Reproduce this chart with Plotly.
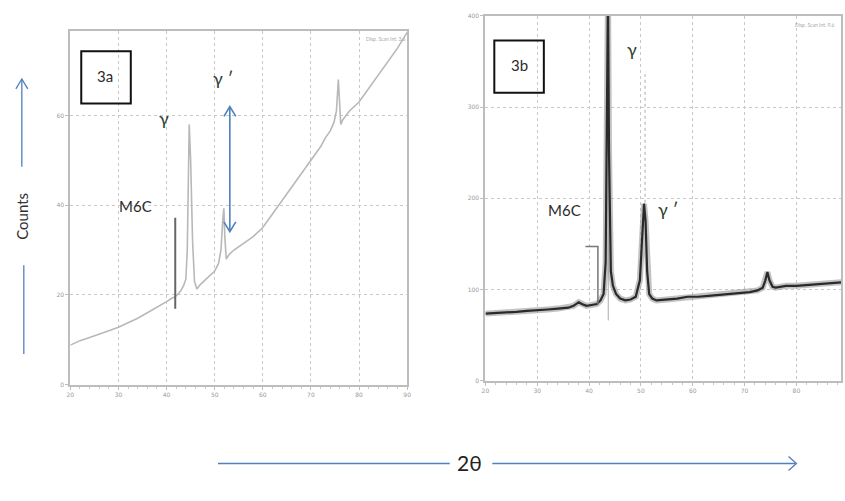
import plotly.graph_objects as go

W, H = 845, 501

# ---------------- data ----------------
# Panel 3a (2theta in degrees, counts on the plot's own scale)
theta_a = [20, 22, 24, 26, 28, 30, 32, 34, 36, 38, 40, 41, 41.8, 42.5, 43, 43.5, 44, 44.3, 44.5, 44.7,
           45.0, 45.4, 45.8, 46.3, 47, 48, 49, 50, 50.8, 51.3, 51.7, 51.9, 52.1, 52.4, 53, 54, 56, 58,
           60, 62, 64, 66, 68, 70, 72, 73, 74, 74.8, 75.3, 75.7, 75.9, 76.2, 76.6, 77, 78, 80, 82, 84,
           86, 88, 90]
counts_a = [8.8, 9.8, 10.5, 11.2, 12.0, 12.8, 13.8, 14.8, 16.0, 17.2, 18.5, 19.2, 19.6, 20.3, 21.0, 22.0,
            23.5, 30, 50, 58, 50, 32, 23, 21.3, 22.3, 23.3, 24.3, 25.3, 27.0, 30.0, 37.0, 39.3, 33.0,
            28.0, 29.0, 30.0, 31.5, 33.0, 35.0, 38.0, 41.0, 44.0, 47.0, 50.0, 53.0, 55.0, 56.5, 58.5,
            61.0, 68.0, 64.0, 58.0, 59.0, 59.5, 61.0, 63.0, 66.0, 69.0, 72.0, 75.0, 78.5]

# Panel 3b
theta_b = [20, 22, 24, 26, 28, 30, 32, 34, 36, 37, 38, 38.6, 39.5, 40.5, 41.5, 42.2, 42.8, 43.2, 43.45,
           43.65, 43.85, 44.2, 44.6, 45.2, 46, 47, 48, 49, 49.8, 50.3, 50.6, 50.9, 51.2, 51.6, 52.2, 53,
           55, 57, 59, 61, 63, 65, 67, 69, 71, 72.5, 73.5, 74, 74.4, 74.8, 75.4, 76, 77, 78, 80, 82, 84,
           86, 88, 89]
counts_b = [73.5, 74, 75, 75.5, 76.5, 77, 78, 79, 80, 82, 86, 84, 82, 83, 84, 88, 95, 130, 300, 430, 250,
            120, 104, 95, 90, 88, 89, 92, 110, 160, 194, 175, 120, 95, 90, 88, 89, 90, 92, 92, 93, 94,
            95, 96, 97, 99, 102, 110, 119, 110, 103, 102, 103, 104, 104, 105, 106, 107, 108, 108]

# reference sticks
m6c_a = {"theta": [41.8, 41.8], "counts": [16.9, 37.2]}
m6c_b = {"theta": [39.3, 41.7, 41.7], "counts": [147, 147, 84]}
gamma_stick_b = {"theta": [43.7, 43.7], "counts": [66, 400]}
gprime_stick_b = {"theta": [50.8, 50.8], "counts": [195, 336]}

xticks = [20, 30, 40, 50, 60, 70, 80, 90]
yticks_a = [0, 20, 40, 60]
yticks_b = [0, 100, 200, 300, 400]


def px(x):
    return x / W


def py(y):
    return 1 - y / H


fig = go.Figure()

# panel a
fig.add_trace(go.Scatter(x=theta_a, y=counts_a, mode="lines", line=dict(color="#b8b8b8", width=1.6),
                         xaxis="x", yaxis="y", hoverinfo="skip"))
fig.add_trace(go.Scatter(x=m6c_a["theta"], y=m6c_a["counts"], mode="lines",
                         line=dict(color="#666666", width=2), xaxis="x", yaxis="y"))

# panel b
fig.add_trace(go.Scatter(x=gamma_stick_b["theta"], y=gamma_stick_b["counts"], mode="lines",
                         line=dict(color="#aaaaaa", width=1), xaxis="x2", yaxis="y2"))
fig.add_trace(go.Scatter(x=gprime_stick_b["theta"], y=gprime_stick_b["counts"], mode="lines",
                         line=dict(color="#aaaaaa", width=1, dash="dot"), xaxis="x2", yaxis="y2"))
fig.add_trace(go.Scatter(x=theta_b, y=counts_b, mode="lines", line=dict(color="#9a9a9a", width=6),
                         xaxis="x2", yaxis="y2", opacity=0.6))
fig.add_trace(go.Scatter(x=theta_b, y=counts_b, mode="lines", line=dict(color="#2a2a2a", width=2.2),
                         xaxis="x2", yaxis="y2"))
fig.add_trace(go.Scatter(x=m6c_b["theta"], y=m6c_b["counts"], mode="lines",
                         line=dict(color="#777777", width=1.5), xaxis="x2", yaxis="y2"))

axis_common = dict(showgrid=True, gridcolor="#c8c8c8", griddash="dot", gridwidth=1,
                   showline=True, mirror=True, linecolor="#bdbdbd", linewidth=2,
                   zeroline=False, tickfont=dict(size=6, color="#9a9a9a", family="DejaVu Sans"),
                   ticks="outside", ticklen=3, tickcolor="#bdbdbd")

fig.update_layout(
    width=W, height=H, margin=dict(l=0, r=0, t=0, b=0),
    paper_bgcolor="white", plot_bgcolor="white", showlegend=False,
    xaxis=dict(domain=[px(67), px(407)], range=[20, 90], anchor="y", tickvals=xticks,
               minor=dict(dtick=2, ticklen=2, tickcolor="#c8c8c8", showgrid=False), **axis_common),
    yaxis=dict(domain=[py(386), py(27)], range=[0, 78.9], anchor="x", tickvals=yticks_a, **axis_common),
    xaxis2=dict(domain=[px(486), 1.0], range=[20, 88.6], anchor="y2", tickvals=xticks,
                minor=dict(dtick=2, ticklen=2, tickcolor="#c8c8c8", showgrid=False), **axis_common),
    yaxis2=dict(domain=[py(382), py(12)], range=[0, 400], anchor="x2", tickvals=yticks_b, **axis_common),
)

ann = []


def label(x, y, text, size=16, color="#2b2b2b", **kw):
    ann.append(dict(x=px(x), y=py(y), xref="paper", yref="paper", text=text, showarrow=False,
                    xanchor="center", yanchor="middle",
                    font=dict(family="Lato, Open Sans, sans-serif", size=size, color=color), **kw))


label(102, 73, "3a", 15)
label(520, 62, "3b", 15)
label(162, 116, "γ", 18, "#2f3f2f")
label(221, 75, "γ ′", 18, "#2f3f2f")
label(133, 205, "M6C", 15)
label(634, 46, "γ", 18, "#2f3f2f")
label(566, 209, "M6C", 15)
label(670, 208, "γ ′", 18, "#2f3f2f")
label(385, 36, "Disp. Scan Int. 3.6", 5, "#aaaaaa")
label(818, 21, "Disp. Scan Int. 9.6", 5, "#aaaaaa")
label(18, 215, "Counts", 15, "#333333", textangle=-90)
label(470, 465, "2θ", 21, "#222222")
fig.update_layout(annotations=ann)

blue = "#4f81bd"


def seg(x0, y0, x1, y1, w=1.3):
    return dict(type="line", xref="paper", yref="paper", x0=px(x0), x1=px(x1), y0=py(y0), y1=py(y1),
                line=dict(color=blue, width=w))


def chevron(x0, y0, x1, y1, x2, y2, w=1.3):
    return dict(type="path", xref="paper", yref="paper",
                path=f"M {px(x0)} {py(y0)} L {px(x1)} {py(y1)} L {px(x2)} {py(y2)}",
                line=dict(color=blue, width=w))


shapes = [
    dict(type="rect", xref="paper", yref="paper", x0=px(78), x1=px(128), y0=py(101), y1=py(48),
         line=dict(color="#111111", width=2)),
    dict(type="rect", xref="paper", yref="paper", x0=px(495), x1=px(545), y0=py(90), y1=py(37),
         line=dict(color="#111111", width=2)),
    # Counts arrows
    seg(20, 265, 20, 355),
    seg(18, 76, 18, 165),
    chevron(12, 86, 18, 76, 24, 86),
    # 2theta arrows
    seg(216, 466, 450, 466),
    seg(493, 466, 799, 466),
    chevron(792, 459, 800, 466, 792, 473),
    # double arrow in 3a
    seg(228, 105, 228, 230, 1.6),
    chevron(222, 114, 228, 104, 234, 114, 1.6),
    chevron(222, 221, 228, 231, 234, 221, 1.6),
]
fig.update_layout(shapes=shapes)

fig.write_html("out.html", config={"displayModeBar": False},
               post_script="document.body.style.margin='0';document.body.style.overflow='hidden';")
